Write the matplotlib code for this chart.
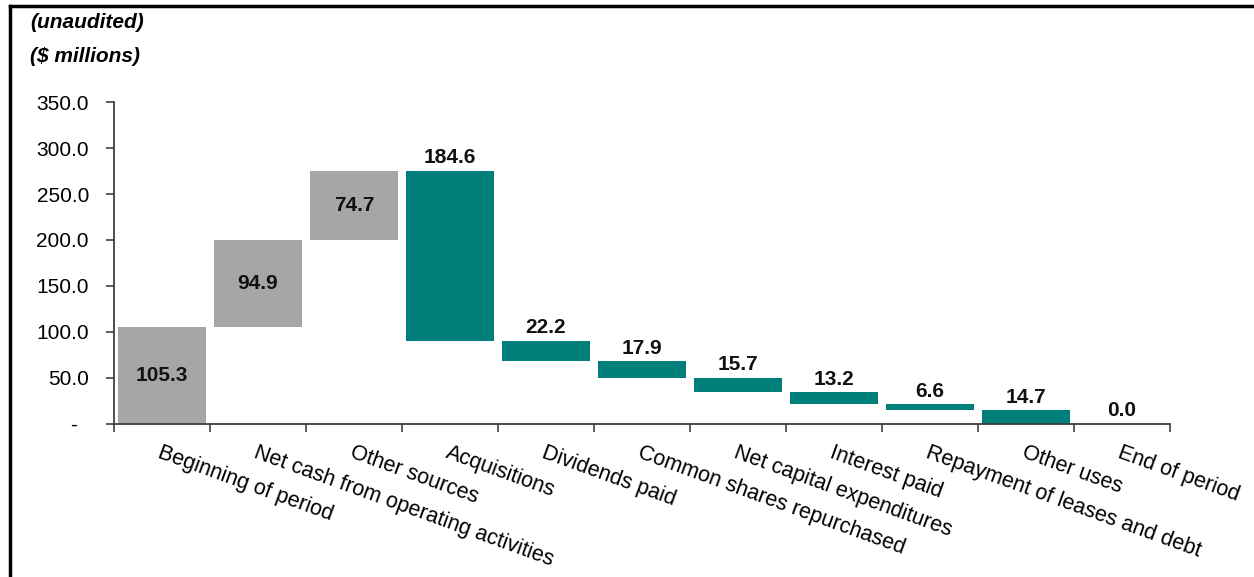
import numpy as np
import matplotlib
matplotlib.use("Agg")
import matplotlib.pyplot as plt
from matplotlib.lines import Line2D

plt.rcParams["font.family"] = ["Liberation Sans", "DejaVu Sans"]

categories = ["Beginning of period", "Net cash from operating activities", "Other sources",
              "Acquisitions", "Dividends paid", "Common shares repurchased",
              "Net capital expenditures", "Interest paid", "Repayment of leases and debt",
              "Other uses", "End of period"]
# signed movements; first is the opening balance, last is the closing balance
amounts = [105.3, 94.9, 74.7, -184.6, -22.2, -17.9, -15.7, -13.2, -6.6, -14.7, 0.0]
kinds = ["total", "source", "source", "use", "use", "use", "use", "use", "use", "use", "total"]
y_ticks = [0, 50, 100, 150, 200, 250, 300, 350]

GRAY = "#a6a6a6"
TEAL = "#007f7b"
FS = 15

fig = plt.figure(figsize=(12.54, 5.77), dpi=100)
ax = fig.add_axes([0.0909, 0.2652, 0.8421, 0.558])

running = 0.0
x = np.arange(len(categories))
for i, (amt, kind) in enumerate(zip(amounts, kinds)):
    if kind == "total":
        bottom = 0.0
        height = amt if i == 0 else running
        running = height
        color = GRAY
    elif kind == "source":
        bottom = running
        height = amt
        running += amt
        color = GRAY
    else:
        running += amt
        bottom = running
        height = -amt
        color = TEAL
    ax.bar(x[i], height, width=0.92, bottom=bottom, color=color, linewidth=0)
    label = f"{abs(amt if i < len(amounts) - 1 else height):.1f}"
    if color == GRAY and height > 0:
        ax.text(x[i], bottom + height / 2, label, ha="center", va="center",
                fontsize=FS, fontweight="bold", color="#111111")
    else:
        ax.text(x[i], bottom + height + 4, label, ha="center", va="bottom",
                fontsize=FS, fontweight="bold", color="#111111")

ax.set_xlim(-0.5, len(categories) - 0.5)
ax.set_ylim(0, 350)
ax.set_yticks(y_ticks)
ax.set_yticklabels(["-  " if v == 0 else f"{v:.1f}" for v in y_ticks], fontsize=FS)

ax.set_xticks(x)
ax.set_xticklabels(categories, rotation=-20, ha="left", rotation_mode="anchor", fontsize=15.5)
ax.set_xticks(np.arange(len(categories) + 1) - 0.5, minor=True)
ax.tick_params(axis="x", which="major", length=0, pad=13)
ax.tick_params(axis="x", which="minor", length=6, width=1.2, direction="out", color="#404040")
ax.tick_params(axis="y", length=6, width=1.2, color="#404040", pad=12)

for s in ("top", "right"):
    ax.spines[s].set_visible(False)
for s in ("left", "bottom"):
    ax.spines[s].set_linewidth(1.3)
    ax.spines[s].set_color("#404040")

fig.text(30 / 1254, 1 - 22 / 577, "(unaudited)", fontsize=FS, fontweight="bold",
         fontstyle="italic", va="center", ha="left")
fig.text(30 / 1254, 1 - 57 / 577, "($ millions)", fontsize=FS, fontweight="bold",
         fontstyle="italic", va="center", ha="left")

# outer frame (top and left edges)
fig.add_artist(Line2D([9.5 / 1254, 1], [1 - 5.5 / 577, 1 - 5.5 / 577],
                      transform=fig.transFigure, color="black", lw=2.5))
fig.add_artist(Line2D([9.5 / 1254, 9.5 / 1254], [0, 1 - 5.5 / 577],
                      transform=fig.transFigure, color="black", lw=2.5))

fig.savefig("out.png", dpi=100)
